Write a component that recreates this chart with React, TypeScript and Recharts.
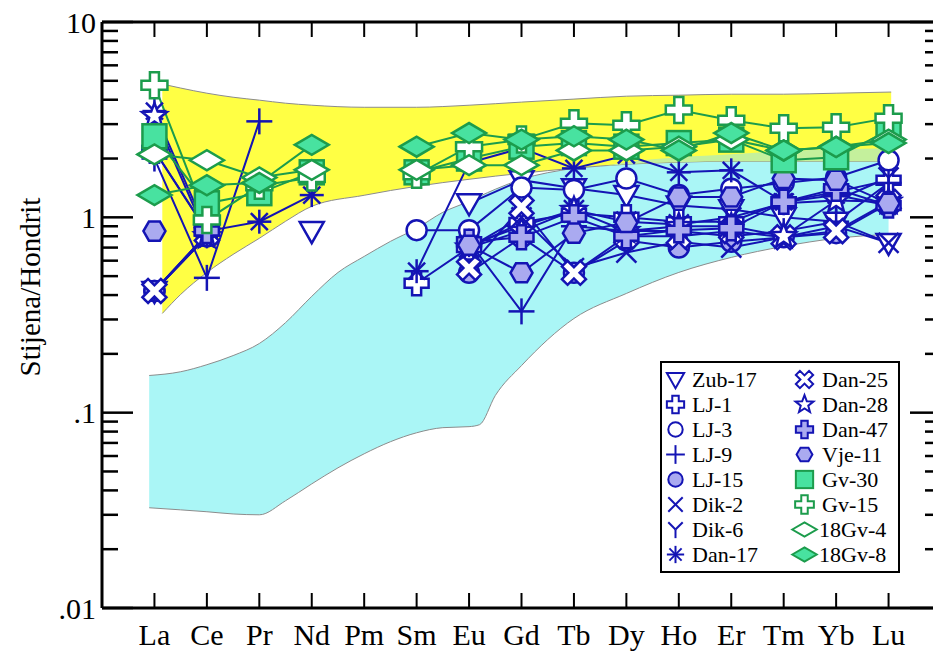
import React from "react";
import { ComposedChart, Line, Area, XAxis, YAxis, Legend, Label } from "recharts";

const elements = ["La", "Ce", "Pr", "Nd", "Pm", "Sm", "Eu", "Gd", "Tb", "Dy", "Ho", "Er", "Tm", "Yb", "Lu"];
const yTicks = [0.01, 0.02, 0.03, 0.04, 0.05, 0.06, 0.07, 0.08, 0.09, 0.1, 0.2, 0.3, 0.4, 0.5, 0.6, 0.7, 0.8, 0.9, 1, 2, 3, 4, 5, 6, 7, 8, 9, 10];
const yLabels: Record<number, string> = { 0.01: ".01", 0.1: ".1", 1: "1", 10: "10" };

type V = number | null;

// chondrite-normalised values, La..Lu (Pm never measured)
const zub17: V[] = [0.42, 0.82, null, 0.85, null, null, 1.18, 1.55, 1.41, 1.3, 1.15, 1.1, 1.0, 0.95, 0.74];
const lj1: V[] = [2.2, 0.85, null, null, null, 0.46, 0.7, 0.94, 1.05, 1.0, 0.95, 0.95, 1.2, 1.35, 1.55];
const lj3: V[] = [0.42, 0.8, null, null, null, 0.86, 0.86, 1.42, 1.38, 1.58, 1.3, 1.4, 1.5, 1.6, 1.96];
const lj9: V[] = [2.0, 0.49, 3.1, null, null, null, 0.75, 0.33, 0.9, 0.85, 0.85, 0.8, 0.85, 0.95, 1.5];
const lj15: V[] = [0.42, 0.8, null, null, null, null, 0.52, 0.79, 0.52, 0.76, 0.7, 0.75, 0.79, 0.83, 1.18];
const dik2: V[] = [0.42, 0.82, null, null, null, null, 0.7, 1.0, 0.55, 0.66, 0.75, 0.7, 0.79, 0.9, 0.74];
const dik6: V[] = [0.42, 0.8, null, null, null, null, 0.72, 0.9, 1.09, 0.95, 0.92, 1.0, 1.18, 1.22, 1.6];
const dan17: V[] = [3.5, 0.85, 0.95, 1.3, null, 0.53, 1.9, 2.26, 1.78, 2.08, 1.7, 1.74, 1.2, 1.3, 1.15];
const dan25: V[] = [0.42, 0.82, null, null, null, null, 0.55, 1.13, 0.52, 0.8, 0.8, 0.85, 0.79, 0.85, 1.2];
const dan28: V[] = [3.3, 0.8, null, null, null, null, 0.7, 0.85, 1.09, 0.85, 0.9, 0.9, 0.8, 1.22, 1.2];
const dan47: V[] = [2.2, 0.85, null, null, null, null, 0.75, 0.79, 1.0, 0.8, 0.86, 0.88, 1.2, 1.4, 1.15];
const vje11: V[] = [0.85, null, null, null, null, null, 0.72, 0.52, 0.83, 0.94, 1.27, 1.27, 1.58, 1.55, 1.18];
const gv30: V[] = [2.6, 1.18, 1.33, 1.7, null, 1.7, 2.0, 2.3, 2.4, 2.3, 2.4, 2.5, 1.96, 2.03, 2.79];
const gv15: V[] = [4.75, 0.97, 1.45, 1.6, null, 1.65, 2.3, 2.5, 3.03, 2.96, 3.54, 3.14, 2.86, 2.89, 3.22];
const gv4: V[] = [2.1, 1.96, 1.6, 1.75, null, 1.75, 1.85, 1.85, 2.2, 2.2, 2.3, 2.5, 2.2, 2.3, 2.5];
const gv8: V[] = [1.3, 1.46, 1.5, 2.35, null, 2.3, 2.7, 2.5, 2.6, 2.5, 2.2, 2.7, 2.2, 2.29, 2.4];

// reference fields (x = element index, La = 1)
const yellowX = [1.15, 1.5, 2, 2.5, 3, 3.5, 4, 5, 6, 7, 8, 9, 10, 11, 12, 13, 14, 15.05];
const yellowLow = [0.322, 0.403, 0.522, 0.646, 0.781, 0.954, 1.139, 1.297, 1.442, 1.566, 1.681, 1.784, 1.87, 1.915, 1.938, 1.938, 1.938, 1.938];
const yellowHigh = [4.81, 4.59, 4.32, 4.12, 3.98, 3.84, 3.75, 3.66, 3.66, 3.75, 3.89, 4.03, 4.17, 4.22, 4.27, 4.27, 4.32, 4.38];

const cyanX = [0.9, 1.5, 2, 2.5, 3, 3.5, 4, 4.5, 5, 5.5, 6, 6.5, 7, 7.2, 7.5, 8, 9, 10, 11, 12, 13, 14, 15];
const cyanLow = [0.0326, 0.0318, 0.0311, 0.0303, 0.03, 0.0354, 0.0432, 0.0522, 0.0616, 0.071, 0.0789, 0.0838, 0.0848, 0.0868, 0.1223, 0.1742, 0.3034, 0.4076, 0.5224, 0.6235, 0.7102, 0.7806, 0.8182];
const cyanHigh = [0.155, 0.162, 0.176, 0.196, 0.226, 0.289, 0.394, 0.522, 0.631, 0.753, 0.878, 1.061, 1.208, 1.281, 1.392, 1.566, 1.784, 1.915, 2.031, 2.104, 2.181, 2.233, 2.259];

const overlapX = [9.6, 10, 11, 12, 13, 14, 15];
const overlapLow = [1.83, 1.87, 1.915, 1.938, 1.938, 1.938, 1.938];
const overlapHigh = [1.83, 1.915, 2.031, 2.104, 2.181, 2.233, 2.259];

const SERIF = "'Liberation Serif', 'Times New Roman', serif";
const BLUE = "#1414b4";
const LAV = "#aaaaf0";
const GREEN = "#1c9c4c";
const GFILL = "#48e2a0";

type Kind =
  | "tri" | "crossOpen" | "circleOpen" | "plus" | "circleFill" | "x" | "y" | "aster"
  | "fatX" | "star" | "crossFill" | "hex" | "square" | "crossGreen" | "diamondOpen" | "diamondFill";

const series: { name: string; values: V[]; kind: Kind; color: string }[] = [
  { name: "Zub-17", values: zub17, kind: "tri", color: BLUE },
  { name: "LJ-1", values: lj1, kind: "crossOpen", color: BLUE },
  { name: "LJ-3", values: lj3, kind: "circleOpen", color: BLUE },
  { name: "LJ-9", values: lj9, kind: "plus", color: BLUE },
  { name: "LJ-15", values: lj15, kind: "circleFill", color: BLUE },
  { name: "Dik-2", values: dik2, kind: "x", color: BLUE },
  { name: "Dik-6", values: dik6, kind: "y", color: BLUE },
  { name: "Dan-17", values: dan17, kind: "aster", color: BLUE },
  { name: "Dan-25", values: dan25, kind: "fatX", color: BLUE },
  { name: "Dan-28", values: dan28, kind: "star", color: BLUE },
  { name: "Dan-47", values: dan47, kind: "crossFill", color: BLUE },
  { name: "Vje-11", values: vje11, kind: "hex", color: BLUE },
  { name: "Gv-30", values: gv30, kind: "square", color: GREEN },
  { name: "Gv-15", values: gv15, kind: "crossGreen", color: GREEN },
  { name: "18Gv-4", values: gv4, kind: "diamondOpen", color: GREEN },
  { name: "18Gv-8", values: gv8, kind: "diamondFill", color: GREEN },
];

const rows = elements.map((el, i) => {
  const r: Record<string, number | string | null> = { x: i + 1, el };
  series.forEach((s) => (r[s.name] = s.values[i]));
  return r;
});
const yellowData = yellowX.map((x, i) => ({ x, r: [yellowLow[i], yellowHigh[i]] }));
const cyanData = cyanX.map((x, i) => ({ x, r: [cyanLow[i], cyanHigh[i]] }));
const overlapData = overlapX.map((x, i) => ({ x, r: [overlapLow[i], overlapHigh[i]] }));

const pts = (arr: number[][]) => arr.map((p) => p.join(",")).join(" ");

function crossPts(cx: number, cy: number, a: number, w: number, rot = 0) {
  const base = [
    [-w, -a], [w, -a], [w, -w], [a, -w], [a, w], [w, w],
    [w, a], [-w, a], [-w, w], [-a, w], [-a, -w], [-w, -w],
  ];
  const c = Math.cos(rot), s = Math.sin(rot);
  return pts(base.map(([x, y]) => [cx + x * c - y * s, cy + x * s + y * c]));
}

function Marker({ kind, cx, cy, s = 1 }: { kind: Kind; cx: number; cy: number; s?: number }) {
  const sw = 2.5 * Math.max(s, 0.8);
  switch (kind) {
    case "tri":
      return <polygon points={pts([[cx - 12 * s, cy - 9 * s], [cx + 12 * s, cy - 9 * s], [cx, cy + 12 * s]])} fill="#fff" stroke={BLUE} strokeWidth={sw} />;
    case "crossOpen":
      return <polygon points={crossPts(cx, cy, 12 * s, 4.5 * s)} fill="#fff" stroke={BLUE} strokeWidth={sw} />;
    case "crossFill":
      return <polygon points={crossPts(cx, cy, 12 * s, 4.5 * s)} fill={LAV} stroke={BLUE} strokeWidth={sw} />;
    case "crossGreen":
      return <polygon points={crossPts(cx, cy, 13 * s, 4.5 * s)} fill="#fff" stroke={GREEN} strokeWidth={sw} />;
    case "fatX":
      return <polygon points={crossPts(cx, cy, 13 * s, 4 * s, Math.PI / 4)} fill="#fff" stroke={BLUE} strokeWidth={sw} />;
    case "circleOpen":
      return <circle cx={cx} cy={cy} r={10 * s} fill="#fff" stroke={BLUE} strokeWidth={sw} />;
    case "circleFill":
      return <circle cx={cx} cy={cy} r={10 * s} fill={LAV} stroke={BLUE} strokeWidth={sw} />;
    case "plus":
      return (
        <g stroke={BLUE} strokeWidth={sw}>
          <line x1={cx - 13 * s} x2={cx + 13 * s} y1={cy} y2={cy} />
          <line x1={cx} x2={cx} y1={cy - 13 * s} y2={cy + 13 * s} />
        </g>
      );
    case "x":
      return (
        <g stroke={BLUE} strokeWidth={sw}>
          <line x1={cx - 10 * s} x2={cx + 10 * s} y1={cy - 10 * s} y2={cy + 10 * s} />
          <line x1={cx - 10 * s} x2={cx + 10 * s} y1={cy + 10 * s} y2={cy - 10 * s} />
        </g>
      );
    case "y":
      return (
        <g stroke={BLUE} strokeWidth={sw}>
          <line x1={cx} x2={cx - 10 * s} y1={cy} y2={cy - 10 * s} />
          <line x1={cx} x2={cx + 10 * s} y1={cy} y2={cy - 10 * s} />
          <line x1={cx} x2={cx} y1={cy} y2={cy + 12 * s} />
        </g>
      );
    case "aster": {
      const r = 12 * s;
      const d = r * 0.707;
      return (
        <g stroke={BLUE} strokeWidth={sw}>
          <line x1={cx - r} x2={cx + r} y1={cy} y2={cy} />
          <line x1={cx} x2={cx} y1={cy - r} y2={cy + r} />
          <line x1={cx - d} x2={cx + d} y1={cy - d} y2={cy + d} />
          <line x1={cx - d} x2={cx + d} y1={cy + d} y2={cy - d} />
        </g>
      );
    }
    case "star": {
      const p: number[][] = [];
      for (let k = 0; k < 10; k++) {
        const r = (k % 2 === 0 ? 13 : 5.5) * s;
        const a = -Math.PI / 2 + (k * Math.PI) / 5;
        p.push([cx + r * Math.cos(a), cy + r * Math.sin(a)]);
      }
      return <polygon points={pts(p)} fill="#fff" stroke={BLUE} strokeWidth={sw} />;
    }
    case "hex": {
      const p: number[][] = [];
      for (let k = 0; k < 6; k++) {
        const a = (k * Math.PI) / 3;
        p.push([cx + 11 * s * Math.cos(a), cy + 11 * s * Math.sin(a)]);
      }
      return <polygon points={pts(p)} fill={LAV} stroke={BLUE} strokeWidth={sw} />;
    }
    case "square":
      return <rect x={cx - 12 * s} y={cy - 12 * s} width={24 * s} height={24 * s} fill={GFILL} stroke={GREEN} strokeWidth={sw} />;
    case "diamondOpen":
      return <polygon points={pts([[cx - 17 * s, cy], [cx, cy - 10 * s], [cx + 17 * s, cy], [cx, cy + 10 * s]])} fill="#fff" stroke={GREEN} strokeWidth={sw} />;
    case "diamondFill":
      return <polygon points={pts([[cx - 17 * s, cy], [cx, cy - 10 * s], [cx + 17 * s, cy], [cx, cy + 10 * s]])} fill={GFILL} stroke={GREEN} strokeWidth={sw} />;
  }
  return null;
}

function BottomTick(props: any) {
  const { x, y, payload } = props;
  const ay = y - 10;
  return (
    <g>
      <line x1={x} x2={x} y1={ay} y2={ay - 15} stroke="#000" strokeWidth={2} />
      <text x={x} y={ay + 37} textAnchor="middle" fontSize={30} fontFamily={SERIF} fill="#000">
        {elements[payload.value - 1]}
      </text>
    </g>
  );
}

function TopTick(props: any) {
  const { x, y } = props;
  return <line x1={x} x2={x} y1={y} y2={y + 15} stroke="#000" strokeWidth={2} />;
}

function LeftTick(props: any) {
  const { x, y, payload } = props;
  const ax = x + 8;
  const label = yLabels[payload.value];
  return (
    <g>
      <line x1={ax} x2={ax + (label ? 31 : 16)} y1={y} y2={y} stroke="#000" strokeWidth={2.5} />
      {label && (
        <text x={ax - 6} y={y} dy="0.35em" textAnchor="end" fontSize={30} fontFamily={SERIF} fill="#000">
          {label}
        </text>
      )}
    </g>
  );
}

function RightTick(props: any) {
  const { x, y, payload } = props;
  const major = !!yLabels[payload.value];
  return <line x1={x} x2={x - (major ? 31 : 16)} y1={y} y2={y} stroke="#000" strokeWidth={2.5} />;
}

function YTitle(props: any) {
  const vb = props.viewBox;
  const x = vb.x + 30;
  const y = vb.y + vb.height / 2 - 28;
  return (
    <text x={x} y={y} transform={`rotate(-90 ${x} ${y})`} textAnchor="middle" dy="0.35em" fontSize={29} fontFamily={SERIF} fill="#000">
      Stijena/Hondrit
    </text>
  );
}

function LegendBox() {
  const left = series.slice(0, 8);
  const right = series.slice(8);
  return (
    <div style={{ width: 240, height: 212, border: "2.5px solid #000", background: "#fff", boxSizing: "border-box" }}>
      <svg width={235} height={207} style={{ display: "block" }}>
        {left.map((s, i) => (
          <g key={s.name}>
            <Marker kind={s.kind} cx={13.5} cy={16.5 + 25 * i} s={0.72} />
            <text x={30} y={16.5 + 25 * i} dy="0.35em" fontSize={22} fontFamily={SERIF} fill="#000">{s.name}</text>
          </g>
        ))}
        {right.map((s, i) => (
          <g key={s.name}>
            <Marker kind={s.kind} cx={142.5} cy={16.5 + 25 * i} s={0.72} />
            <text x={s.name.startsWith("18") ? 157 : 160} y={16.5 + 25 * i} dy="0.35em" fontSize={22} fontFamily={SERIF} fill="#000">{s.name}</text>
          </g>
        ))}
      </svg>
    </div>
  );
}

const xTicks = elements.map((_, i) => i + 1);
const axisLine = { stroke: "#000", strokeWidth: 3 };

export default function App() {
  return (
    <div style={{ position: "absolute", left: 0, top: 0, width: 933, height: 652, overflow: "hidden", background: "#fff" }}>
      <ComposedChart width={945} height={652} data={rows} margin={{ top: 20, right: 0, bottom: 0, left: 0 }}>
        <XAxis xAxisId="x" type="number" dataKey="x" domain={[0, 16]} ticks={xTicks} interval={0} height={44}
          tickSize={0} tickMargin={10} tick={(p: any) => <BottomTick {...p} />} axisLine={axisLine} allowDataOverflow />
        <XAxis xAxisId="top" orientation="top" type="number" dataKey="x" domain={[0, 16]} ticks={xTicks} interval={0} height={2}
          tickSize={0} tickMargin={0} tick={(p: any) => <TopTick {...p} />} axisLine={axisLine} allowDataOverflow />
        <YAxis yAxisId="y" type="number" scale="log" domain={[0.01, 10]} ticks={yTicks} interval={0} width={102}
          tickSize={0} tickMargin={8} tick={(p: any) => <LeftTick {...p} />} axisLine={axisLine} allowDataOverflow>
          <Label content={(p: any) => <YTitle {...p} />} />
        </YAxis>
        <YAxis yAxisId="r" orientation="right" type="number" scale="log" domain={[0.01, 10]} ticks={yTicks} interval={0} width={4}
          tickSize={0} tickMargin={0} tick={(p: any) => <RightTick {...p} />} axisLine={axisLine} allowDataOverflow />

        <Area xAxisId="x" yAxisId="y" data={cyanData} dataKey="r" type="monotone" fill="#aaf6f6" fillOpacity={1}
          stroke="#8c8c8c" strokeWidth={1} isAnimationActive={false} dot={false} activeDot={false} />
        <Area xAxisId="x" yAxisId="y" data={yellowData} dataKey="r" type="monotone" fill="#ffff44" fillOpacity={1}
          stroke="#8c8c8c" strokeWidth={1} isAnimationActive={false} dot={false} activeDot={false} />
        <Area xAxisId="x" yAxisId="y" data={overlapData} dataKey="r" type="monotone" fill="#c4f09c" fillOpacity={1}
          stroke="none" isAnimationActive={false} dot={false} activeDot={false} />

        {series.map((s) => (
          <Line
            key={s.name}
            xAxisId="x"
            yAxisId="y"
            dataKey={s.name}
            type="linear"
            stroke={s.color}
            strokeWidth={2}
            isAnimationActive={false}
            activeDot={false}
            dot={(p: any) =>
              p.cx == null || p.cy == null || p.value == null ? (
                <g key={`${s.name}-${p.index}`} />
              ) : (
                <g key={`${s.name}-${p.index}`}>
                  <Marker kind={s.kind} cx={p.cx} cy={p.cy} />
                </g>
              )
            }
          />
        ))}

        <Legend layout="vertical" align="center" verticalAlign="middle"
          wrapperStyle={{ left: 660, top: 361, width: 240, height: 212 }} content={() => <LegendBox />} />
      </ComposedChart>
    </div>
  );
}
